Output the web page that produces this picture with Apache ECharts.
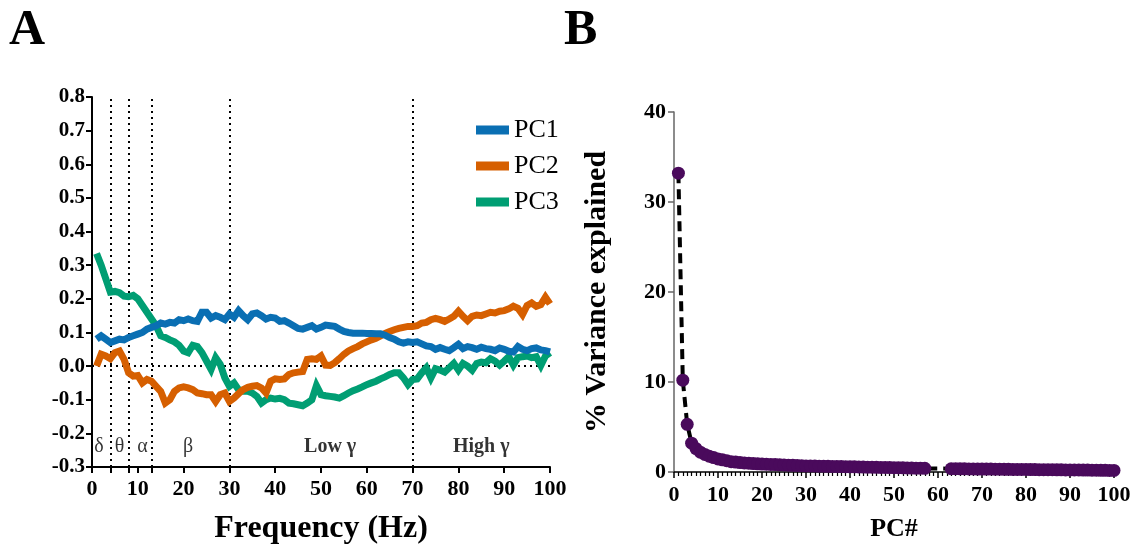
<!DOCTYPE html>
<html><head><meta charset="utf-8">
<script src="https://cdn.jsdelivr.net/npm/echarts@6/dist/echarts.min.js"></script>
<style>html,body{margin:0;padding:0;background:#fff}#c{width:1145px;height:550px}</style>
</head><body><div id="c"></div>
<script>
// ---------- Panel A data ----------
const freqs = Array.from({length: 100}, (_, i) => i + 1); // 1..100 Hz
const pc1 = [0.08,0.09,0.08,0.07,0.075,0.08,0.078,0.085,0.09,0.095,
 0.10,0.11,0.115,0.12,0.128,0.125,0.13,0.128,0.138,0.135,
 0.14,0.135,0.133,0.16,0.16,0.143,0.15,0.145,0.138,0.155,
 0.145,0.165,0.15,0.138,0.155,0.158,0.15,0.14,0.145,0.143,
 0.133,0.135,0.128,0.12,0.112,0.11,0.115,0.12,0.11,0.115,
 0.122,0.12,0.118,0.11,0.103,0.10,0.098,0.098,0.098,0.097,
 0.097,0.096,0.096,0.092,0.085,0.08,0.072,0.068,0.072,0.07,
 0.072,0.066,0.06,0.058,0.05,0.055,0.05,0.046,0.055,0.065,
 0.052,0.058,0.055,0.05,0.056,0.052,0.05,0.046,0.054,0.05,
 0.044,0.042,0.058,0.05,0.046,0.052,0.054,0.048,0.046,0.042];
const pc2 = [0.0,0.035,0.03,0.022,0.04,0.045,0.02,-0.02,-0.03,-0.028,
 -0.05,-0.04,-0.045,-0.06,-0.075,-0.11,-0.10,-0.075,-0.065,-0.062,
 -0.065,-0.07,-0.08,-0.082,-0.085,-0.085,-0.105,-0.085,-0.08,-0.105,
 -0.095,-0.082,-0.07,-0.063,-0.06,-0.058,-0.065,-0.08,-0.045,-0.038,
 -0.04,-0.038,-0.025,-0.02,-0.018,-0.016,0.02,0.022,0.02,0.03,
 0.003,0.002,0.01,0.022,0.035,0.045,0.052,0.058,0.066,0.072,
 0.078,0.083,0.09,0.097,0.103,0.108,0.112,0.115,0.118,0.118,
 0.12,0.128,0.13,0.138,0.142,0.138,0.133,0.14,0.148,0.163,
 0.148,0.135,0.148,0.152,0.15,0.155,0.16,0.158,0.163,0.165,
 0.17,0.178,0.172,0.153,0.18,0.188,0.178,0.183,0.205,0.185];
const pc3 = [0.335,0.30,0.26,0.22,0.222,0.218,0.208,0.206,0.21,0.20,
 0.18,0.16,0.14,0.12,0.09,0.085,0.078,0.072,0.062,0.045,
 0.04,0.062,0.058,0.04,0.015,-0.01,0.025,0.005,-0.035,-0.06,
 -0.05,-0.07,-0.075,-0.075,-0.08,-0.09,-0.11,-0.10,-0.095,-0.098,
 -0.096,-0.10,-0.11,-0.112,-0.115,-0.118,-0.11,-0.10,-0.058,-0.085,
 -0.088,-0.09,-0.092,-0.095,-0.088,-0.08,-0.073,-0.068,-0.062,-0.055,
 -0.05,-0.045,-0.038,-0.032,-0.025,-0.02,-0.02,-0.035,-0.055,-0.04,
 -0.038,-0.02,-0.005,-0.035,-0.008,-0.012,-0.018,-0.005,0.008,-0.012,
 0.008,0.0,-0.012,0.008,0.012,0.01,0.022,0.015,0.003,0.015,
 0.028,0.003,0.025,0.028,0.03,0.025,0.028,0.002,0.03,0.04];
const seriesNames = ['PC1', 'PC2', 'PC3'];
const bandEdges = [4, 8, 13, 30, 70];
const bandNames = ['δ', 'θ', 'α', 'β', 'Low γ', 'High γ'];
const bandCenters = [1.5, 6, 11, 21, 52, 85];
const bandBold = [false, false, false, false, true, true];
const bandLabelY = -0.24;
const freqTicks = [0, 4, 8, 10, 13, 20, 30, 40, 50, 60, 70, 80, 90, 100];

// ---------- Panel B data ----------
const pcNums = Array.from({length: 100}, (_, i) => i + 1);
const varExplained = [33.2,10.2,5.3,3.2,2.6,2.2,1.95,1.75,1.6,1.45,
 1.35,1.25,1.15,1.1,1.05,1.0,0.97,0.94,0.91,0.88,
 0.86,0.84,0.82,0.8,0.78,0.76,0.74,0.72,0.7,0.68,
 0.67,0.66,0.65,0.64,0.63,0.62,0.61,0.6,0.59,0.58,
 0.57,0.56,0.55,0.54,0.53,0.52,0.51,0.5,0.49,0.48,
 0.47,0.46,0.45,0.44,0.43,0.42,0.41,0.40,0.39,0.39,
 0.38,0.37,0.36,0.36,0.35,0.35,0.34,0.34,0.33,0.33,
 0.32,0.32,0.31,0.31,0.30,0.30,0.29,0.29,0.28,0.28,
 0.27,0.27,0.26,0.26,0.25,0.25,0.24,0.24,0.23,0.23,
 0.22,0.22,0.21,0.21,0.20,0.20,0.19,0.19,0.18,0.18];
const hiddenPCs = [58, 59, 60, 61, 62];

const colors = ['#0A6FB3', '#D65F00', '#009E73'];
const purple = '#4A0A5C';
const SERIF = '"Liberation Serif", "DejaVu Serif", serif';

const chart = echarts.init(document.getElementById('c'), null, {renderer: 'canvas'});

const dotted = {color: '#000', type: [2, 4], width: 2, cap: 'butt'};

const lineSeries = [pc1, pc2, pc3].map((arr, k) => ({
  name: seriesNames[k], type: 'line', xAxisIndex: 0, yAxisIndex: 0,
  data: freqs.map((f, i) => [f, arr[i]]),
  showSymbol: false, symbol: 'none', z: 5 - k,
  lineStyle: {color: colors[k], width: 7, join: 'miter'},
  itemStyle: {color: colors[k]},
  markLine: k === 0 ? {
    silent: true, symbol: 'none', z: 1,
    lineStyle: dotted,
    label: {show: false},
    data: bandEdges.map(e => ({xAxis: e})).concat([{yAxis: 0}])
  } : undefined
}));

const bandSeries = {
  type: 'scatter', xAxisIndex: 0, yAxisIndex: 0, symbolSize: 0, silent: true,
  data: bandNames.map((n, i) => ({
    value: [bandCenters[i], bandLabelY],
    label: {show: true, position: 'inside', formatter: n, color: '#000',
      fontFamily: SERIF, fontSize: 20, fontWeight: bandBold[i] ? 'bold' : 'normal'}
  }))
};

const scree = {
  type: 'line', xAxisIndex: 1, yAxisIndex: 1,
  data: pcNums.map((p, i) => hiddenPCs.includes(p)
    ? {value: [p, varExplained[i]], symbol: 'none'}
    : [p, varExplained[i]]),
  symbol: 'circle', symbolSize: 13, showAllSymbol: true,
  itemStyle: {color: purple},
  lineStyle: {color: '#000', width: 4, type: [10, 6]},
  z: 3
};

const axisLabelStyle = {color: '#000', fontFamily: SERIF, fontWeight: 'bold', fontSize: 22};

chart.setOption({
  animation: false,
  backgroundColor: '#fff',
  graphic: [
    {type: 'text', left: 9, top: 6, style: {text: 'A', font: 'bold 50px ' + SERIF, fill: '#000'}},
    {type: 'text', left: 564, top: 6, style: {text: 'B', font: 'bold 50px ' + SERIF, fill: '#000'}}
  ],
  legend: {
    data: seriesNames, orient: 'vertical', left: 471, top: 112,
    itemWidth: 33, itemHeight: 9, itemGap: 10, icon: 'rect',
    textStyle: {fontFamily: SERIF, fontSize: 26, color: '#000'}
  },
  grid: [
    {left: 92, right: 595, top: 97, bottom: 81},
    {left: 674, right: 31, top: 112, bottom: 78}
  ],
  xAxis: [
    {type: 'value', gridIndex: 0, min: 0, max: 100, interval: 10,
      name: 'Frequency (Hz)', nameLocation: 'middle', nameGap: 46,
      nameTextStyle: {fontFamily: SERIF, fontWeight: 'bold', fontSize: 32, color: '#000'},
      axisLine: {onZero: false, lineStyle: {color: '#000', width: 2}},
      axisTick: {show: true, length: 6, lineStyle: {color: '#000', width: 2}, customValues: freqTicks},
      axisLabel: Object.assign({margin: 11}, axisLabelStyle),
      splitLine: {show: false}},
    {type: 'value', gridIndex: 1, min: 0, max: 100, interval: 10,
      name: 'PC#', nameLocation: 'middle', nameGap: 44,
      nameTextStyle: {fontFamily: SERIF, fontWeight: 'bold', fontSize: 26, color: '#000'},
      axisLine: {onZero: false, lineStyle: {color: '#000', width: 1.5}},
      axisTick: {show: true, length: 6, lineStyle: {color: '#000', width: 1.5}},
      minorTick: {show: true, splitNumber: 10, length: 4, lineStyle: {color: '#000', width: 1.2}},
      axisLabel: Object.assign({margin: 12}, axisLabelStyle),
      splitLine: {show: false}}
  ],
  yAxis: [
    {type: 'value', gridIndex: 0, min: -0.3, max: 0.8, interval: 0.1,
      axisLine: {show: true, onZero: false, lineStyle: {color: '#000', width: 2}},
      axisTick: {show: true, length: 6, lineStyle: {color: '#000', width: 2}},
      axisLabel: Object.assign({margin: 7, formatter: v => v.toFixed(1)}, axisLabelStyle, {fontSize: 21}),
      splitLine: {show: false}},
    {type: 'value', gridIndex: 1, min: 0, max: 40, interval: 10,
      name: '% Variance explained', nameLocation: 'middle', nameGap: 62, nameRotate: 90,
      nameTextStyle: {fontFamily: SERIF, fontWeight: 'bold', fontSize: 30, color: '#000'},
      axisLine: {show: true, onZero: false, lineStyle: {color: '#666', width: 1.5}},
      axisTick: {show: true, length: 6, lineStyle: {color: '#666', width: 1.5}},
      axisLabel: Object.assign({margin: 8}, axisLabelStyle),
      splitLine: {show: false}}
  ],
  series: lineSeries.concat([bandSeries, scree])
});
</script></body></html>
